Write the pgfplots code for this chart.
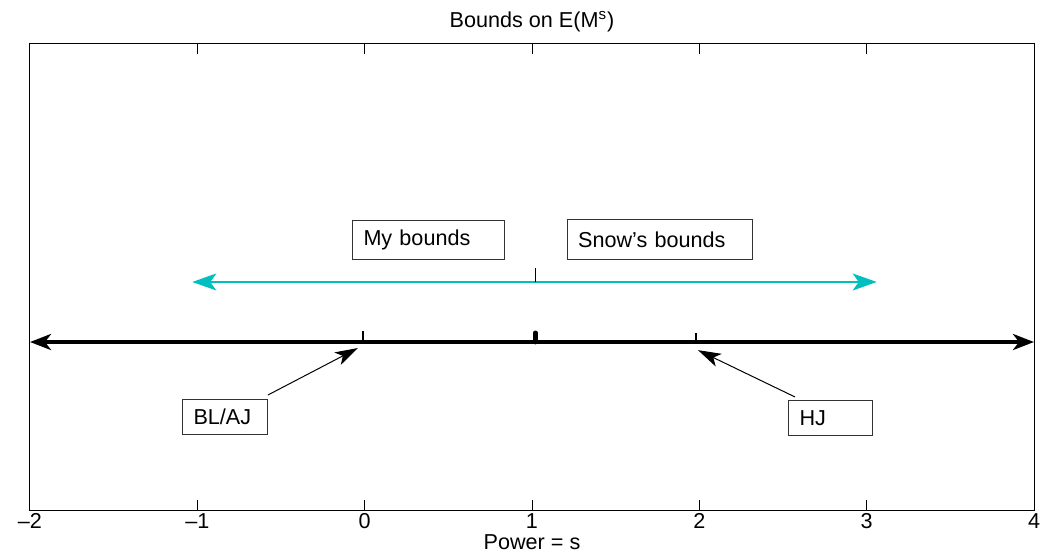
\documentclass[border=0pt]{standalone}
\usepackage{pgfplots}
\pgfplotsset{compat=1.18}
\usepackage{fontspec}
\setmainfont{Liberation Sans}
\usetikzlibrary{arrows.meta}
\definecolor{mcyan}{rgb}{0,0.75,0.75}

\begin{document}
\begin{tikzpicture}
\begin{axis}[
  scale only axis,
  width=502pt, height=233pt,
  xmin=-2, xmax=4, ymin=0, ymax=1,
  xtick={-2,-1,0,1,2,3,4},
  xticklabels={–2,–1,0,1,2,3,4},
  ytick=\empty,
  tick align=inside,
  major tick length=5pt,
  axis line style={line width=0.5pt},
  every tick/.style={black, line width=0.5pt},
  font=\fontsize{10.8}{13}\selectfont,
  xticklabel style={anchor=center, yshift=-5.5pt},
  title={Bounds on E(M\textsuperscript{s})},
  title style={at={(axis description cs:0.5,1)}, anchor=center, yshift=5pt},
  xlabel={Power = s},
  xlabel style={at={(axis description cs:0.5,0)}, anchor=center, yshift=-16pt},
  clip=false,
]
% main black bound line
\addplot[black, line width=2.2pt,
  {Stealth[length=10.5pt, width=8pt, inset=3pt]}-{Stealth[length=10.5pt, width=8pt, inset=3pt]}]
  coordinates {(-2,0.3605) (4,0.3605)};
% cyan bound line
\addplot[mcyan, line width=0.8pt,
  {Stealth[length=12pt, width=8.5pt, inset=3pt]}-{Stealth[length=12pt, width=8.5pt, inset=3pt]}]
  coordinates {(-1.03,0.4893) (3.06,0.4893)};
% small marks on the lines
\addplot[black, line width=0.8pt] coordinates {(-0.01,0.3605) (-0.01,0.385)};
\addplot[black, line width=2.4pt, line cap=round] coordinates {(1.02,0.3605) (1.02,0.38)};
\addplot[black, line width=0.8pt] coordinates {(1.98,0.3605) (1.98,0.38)};
\addplot[black, line width=0.8pt] coordinates {(1.02,0.4893) (1.02,0.52)};
% annotation arrows
\addplot[black, line width=0.5pt, -{Stealth[length=11.5pt, width=7pt, inset=3pt]}]
  coordinates {(-0.578,0.2468) (-0.04,0.3476)};
\addplot[black, line width=0.5pt, -{Stealth[length=11.5pt, width=7pt, inset=3pt]}]
  coordinates {(2.572,0.2425) (1.992,0.343)};
% text boxes
\tikzset{mbox/.style={draw=black!80, line width=0.5pt, anchor=north west,
  inner xsep=5.5pt, inner ysep=0pt, align=left,
  font=\fontsize{10.8}{13}\selectfont}}
\node[mbox, text width=65pt, minimum height=19.5pt] at (axis cs:-0.0757,0.6223) {My bounds};
\node[mbox, text width=81.5pt, minimum height=20pt] at (axis cs:1.2074,0.6245) {Snow’s bounds};
\node[mbox, text width=31.5pt, minimum height=17.5pt] at (axis cs:-1.0916,0.2382) {BL/AJ};
\node[mbox, text width=31pt, minimum height=17.5pt] at (axis cs:2.530,0.2361) {HJ};
\end{axis}
\pgfresetboundingbox
\path ([shift={(-15pt,-20.5pt)}]current axis.south west) rectangle ([shift={(8.5pt,22pt)}]current axis.north east);
\end{tikzpicture}
\end{document}
